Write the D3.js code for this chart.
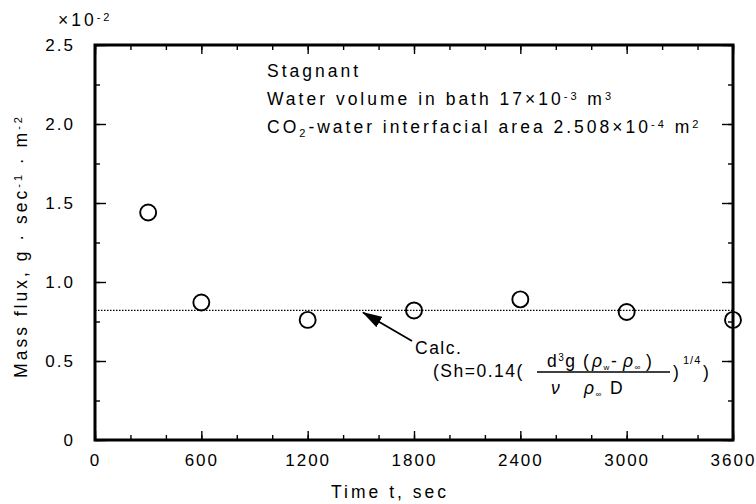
<!DOCTYPE html>
<meta charset="utf-8">
<style>
body { margin: 0; background: #fff; }
svg { font-family: "Liberation Sans", Arial, sans-serif; }
.tick text { letter-spacing: 2px; fill: #000; }
.note { font-size: 17.5px; letter-spacing: 3px; fill: #000; }
.fm { font-size: 17.5px; letter-spacing: 1.5px; fill: #000; }
</style>
<svg width="756" height="504"></svg>
<script src="https://cdn.jsdelivr.net/npm/d3@7"></script>
<script>

// measured points (time in sec, mass flux x10^-2)
var times = [300, 600, 1200, 1800, 2400, 3000, 3600];
var flux = [1.44, 0.87, 0.76, 0.82, 0.89, 0.81, 0.76];
// calculated line
var calcTimes = [0, 3600];
var calcFlux = [0.82, 0.82];
var xTicks = [0, 600, 1200, 1800, 2400, 3000, 3600];
var yTicks = [0, 0.5, 1.0, 1.5, 2.0, 2.5];
var yTickLabels = ["0", "0.5", "1.0", "1.5", "2.0", "2.5"];

var svg = d3.select("svg"),
    mLeft = 95, mRight = 733, mTop = 45, mBottom = 440;

var x = d3.scaleLinear().domain([0, 3600]).range([mLeft, mRight]);
var y = d3.scaleLinear().domain([0, 2.5]).range([mBottom, mTop]);

var xMinor = d3.range(0, 3601, 200);
var yMinor = d3.range(0, 2.51, 0.25);

// inward ticks on all four sides
function tickAxis(axis, pos, vals, len) {
  svg.append("g")
      .attr("transform", pos)
      .call(axis.tickValues(vals).tickSize(len).tickFormat(""))
    .call(function(g) { g.select(".domain").remove(); g.selectAll("line").attr("stroke-width", 1.4); });
}
tickAxis(d3.axisTop(x), "translate(0," + mBottom + ")", xMinor, 5);
tickAxis(d3.axisBottom(x), "translate(0," + mTop + ")", xMinor, 5);
tickAxis(d3.axisRight(y), "translate(" + mLeft + ",0)", yMinor, 5);
tickAxis(d3.axisLeft(y), "translate(" + mRight + ",0)", yMinor, 5);
tickAxis(d3.axisTop(x), "translate(0," + mBottom + ")", xTicks, 9);
tickAxis(d3.axisBottom(x), "translate(0," + mTop + ")", xTicks, 9);
tickAxis(d3.axisRight(y), "translate(" + mLeft + ",0)", yTicks, 11);
tickAxis(d3.axisLeft(y), "translate(" + mRight + ",0)", yTicks, 11);

// tick labels
svg.append("g")
    .attr("transform", "translate(0," + mBottom + ")")
    .call(d3.axisBottom(x).tickValues(xTicks).tickSize(0).tickPadding(14).tickFormat(d3.format("d")))
  .call(function(g) { g.select(".domain").remove(); });

svg.append("g")
    .attr("transform", "translate(" + mLeft + ",0)")
    .call(d3.axisLeft(y).tickValues(yTicks).tickSize(0).tickPadding(20)
      .tickFormat(function(d, i) { return yTickLabels[i]; }))
  .call(function(g) { g.select(".domain").remove(); });

svg.selectAll(".tick text").attr("font-size", 17).attr("font-family", null);

// frame
svg.append("rect")
    .attr("x", mLeft).attr("y", mTop)
    .attr("width", mRight - mLeft).attr("height", mBottom - mTop)
    .attr("fill", "none").attr("stroke", "#000").attr("stroke-width", 3);

// calc line
svg.append("path")
    .datum(calcTimes.map(function(t, i) { return [t, calcFlux[i]]; }))
    .attr("fill", "none")
    .attr("stroke", "#000")
    .attr("stroke-width", 1.2)
    .attr("stroke-dasharray", "1.5,1.5")
    .attr("d", d3.line().x(function(d) { return x(d[0]); }).y(function(d) { return y(d[1]); }));

// points
svg.selectAll("circle.pt")
    .data(times)
  .enter().append("circle")
    .attr("class", "pt")
    .attr("cx", function(d) { return x(d); })
    .attr("cy", function(d, i) { return y(flux[i]); })
    .attr("r", 8)
    .attr("fill", "none")
    .attr("stroke", "#000")
    .attr("stroke-width", 1.9);

// exponent label
var ex = svg.append("text").attr("class", "note").attr("x", 58).attr("y", 26);
ex.append("tspan").text("×10");
ex.append("tspan").attr("dy", -5).attr("font-size", 11).text("-2");

// annotations
svg.append("text").attr("class", "note").attr("x", 267).attr("y", 77).text("Stagnant");

var t2 = svg.append("text").attr("class", "note").attr("x", 267).attr("y", 105);
t2.append("tspan").text("Water volume in bath 17×10");
t2.append("tspan").attr("dy", -5).attr("font-size", 11).text("-3");
t2.append("tspan").attr("dy", 5).text(" m");
t2.append("tspan").attr("dy", -5).attr("font-size", 11).text("3");

var t3 = svg.append("text").attr("class", "note").attr("x", 267).attr("y", 133);
t3.append("tspan").text("CO");
t3.append("tspan").attr("dy", 4).attr("font-size", 11).text("2");
t3.append("tspan").attr("dy", -4).text("-water interfacial area 2.508×10");
t3.append("tspan").attr("dy", -5).attr("font-size", 11).text("-4");
t3.append("tspan").attr("dy", 5).text(" m");
t3.append("tspan").attr("dy", -5).attr("font-size", 11).text("2");

// arrow
svg.append("defs").append("marker")
    .attr("id", "ah").attr("viewBox", "0 0 20 12")
    .attr("refX", 19).attr("refY", 6)
    .attr("markerWidth", 20).attr("markerHeight", 12)
    .attr("markerUnits", "userSpaceOnUse")
    .attr("orient", "auto")
  .append("path").attr("d", "M0,0L20,6L0,12z").attr("fill", "#000");
svg.append("line")
    .attr("x1", 412).attr("y1", 341)
    .attr("x2", 363).attr("y2", y(0.82) + 2)
    .attr("stroke", "#000").attr("stroke-width", 1.8)
    .attr("marker-end", "url(#ah)");

svg.append("text").attr("class", "fm").attr("x", 415).attr("y", 354).text("Calc.");

// formula
svg.append("text").attr("class", "fm").attr("x", 433).attr("y", 377).text("(Sh=0.14(");
var num = svg.append("text").attr("class", "fm").attr("y", 367);
num.append("tspan").attr("x", 547).text("d");
num.append("tspan").attr("dy", -6).attr("font-size", 10).text("3");
num.append("tspan").attr("dy", 6).text("g");
num.append("tspan").attr("x", 583).text("(");
num.append("tspan").attr("x", 592).attr("font-style", "italic").text("ρ");
num.append("tspan").attr("dy", 3).attr("font-size", 8).text("w");
num.append("tspan").attr("dy", -3).attr("x", 611).text("-");
num.append("tspan").attr("x", 623).attr("font-style", "italic").text("ρ");
num.append("tspan").attr("dy", 3).attr("font-size", 8).text("∞");
num.append("tspan").attr("dy", -3).attr("x", 646).text(")");
svg.append("line")
    .attr("x1", 537).attr("x2", 670).attr("y1", 372).attr("y2", 372)
    .attr("stroke", "#000").attr("stroke-width", 1.3);
var den = svg.append("text").attr("class", "fm").attr("y", 394);
den.append("tspan").attr("x", 551).attr("font-style", "italic").text("ν");
den.append("tspan").attr("x", 584).attr("font-style", "italic").text("ρ");
den.append("tspan").attr("dy", 3).attr("font-size", 8).text("∞");
den.append("tspan").attr("dy", -3).attr("x", 610).text("D");
var pw = svg.append("text").attr("class", "fm").attr("y", 378);
pw.append("tspan").attr("x", 673).text(")");
pw.append("tspan").attr("x", 683).attr("dy", -14).attr("font-size", 11).attr("letter-spacing", 1).text("1/4");
pw.append("tspan").attr("x", 703).attr("dy", 14).text(")");

// axis titles
svg.append("text").attr("class", "note")
    .attr("text-anchor", "middle")
    .attr("x", 390).attr("y", 498)
    .text("Time t, sec");

var yt = svg.append("text").attr("class", "note")
    .attr("text-anchor", "middle")
    .attr("transform", "translate(27,246) rotate(-90)");
yt.append("tspan").text("Mass flux, g · sec");
yt.append("tspan").attr("dy", -5).attr("font-size", 11).text("-1");
yt.append("tspan").attr("dy", 5).text(" · m");
yt.append("tspan").attr("dy", -5).attr("font-size", 11).text("-2");
</script>
